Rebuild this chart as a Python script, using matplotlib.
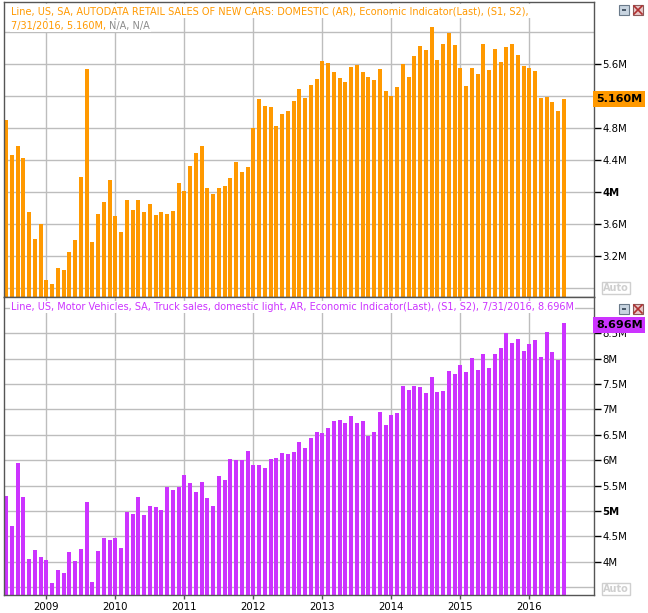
import numpy as np
import matplotlib
matplotlib.use('Agg')
import matplotlib.pyplot as plt
from matplotlib.patches import Rectangle

# monthly values, Jun 2008 .. Jul 2016 (millions, annual rate)
start_year, start_month = 2008, 6

cars = [4.90, 4.46, 4.575, 4.425, 3.74, 3.41, 3.59,
        2.89, 2.84, 3.04, 3.025, 3.25, 3.39, 4.19, 5.54, 3.375, 3.725, 3.875, 4.15,
        3.70, 3.49, 3.90, 3.775, 3.89, 3.74, 3.84, 3.71, 3.74, 3.725, 3.76, 4.11,
        4.01, 4.325, 4.49, 4.575, 4.04, 3.975, 4.05, 4.075, 4.175, 4.375, 4.25, 4.31,
        4.80, 5.16, 5.075, 5.06, 4.825, 4.975, 5.01, 5.14, 5.29, 5.175, 5.34, 5.41,
        5.64, 5.61, 5.50, 5.425, 5.375, 5.56, 5.59, 5.50, 5.44, 5.40, 5.54, 5.26,
        5.20, 5.31, 5.60, 5.44, 5.70, 5.825, 5.775, 6.06, 5.65, 5.85, 5.99, 5.84,
        5.55, 5.325, 5.55, 5.475, 5.85, 5.525, 5.79, 5.625, 5.81, 5.85, 5.71, 5.575,
        5.55, 5.51, 5.175, 5.19, 5.125, 5.01, 5.16]

trucks = [5.29, 4.70, 5.945, 5.275, 4.05, 4.23, 4.09,
          4.03, 3.58, 3.84, 3.78, 4.19, 4.01, 4.25, 5.18, 3.60, 4.21, 4.47, 4.43,
          4.47, 4.27, 4.98, 4.94, 5.275, 4.92, 5.10, 5.08, 5.02, 5.47, 5.41, 5.47,
          5.71, 5.55, 5.37, 5.57, 5.255, 5.10, 5.69, 5.61, 6.02, 6.00, 6.00, 6.18,
          5.905, 5.905, 5.85, 6.02, 6.04, 6.14, 6.12, 6.16, 6.36, 6.24, 6.44, 6.56,
          6.54, 6.63, 6.77, 6.79, 6.73, 6.87, 6.73, 6.77, 6.48, 6.56, 6.95, 6.69,
          6.89, 6.93, 7.46, 7.38, 7.46, 7.44, 7.32, 7.64, 7.34, 7.36, 7.76, 7.70,
          7.88, 7.74, 8.01, 7.78, 8.09, 7.82, 8.09, 8.21, 8.51, 8.31, 8.39, 8.15,
          8.29, 8.37, 8.03, 8.53, 8.13, 7.975, 8.696]

years = [2009, 2010, 2011, 2012, 2013, 2014, 2015, 2016]

cars_ticks = [3.2, 3.6, 4.0, 4.4, 4.8, 5.6]
cars_grid = [2.8, 3.2, 3.6, 4.0, 4.4, 4.8, 5.2, 5.6, 6.0]
truck_ticks = [4.0, 4.5, 5.0, 5.5, 6.0, 6.5, 7.0, 7.5, 8.0, 8.5]
truck_grid = [3.5, 4.0, 4.5, 5.0, 5.5, 6.0, 6.5, 7.0, 7.5, 8.0, 8.5, 9.0]

title_cars_1 = 'Line, US, SA, AUTODATA RETAIL SALES OF NEW CARS: DOMESTIC (AR), Economic Indicator(Last), (S1, S2),'
title_cars_2 = '7/31/2016, 5.160M, '
title_cars_na = 'N/A, N/A'
title_trucks = 'Line, US, Motor Vehicles, SA, Truck sales, domestic light, AR, Economic Indicator(Last), (S1, S2), 7/31/2016, 8.696M'

ORANGE = '#FF9900'
PURPLE = '#CC33FF'
GRID = '#BDBDBD'
FRAME = '#555555'

W, H = 648, 613
x = start_year + (start_month - 1 + np.arange(len(cars))) / 12.0

fig = plt.figure(figsize=(W / 100, H / 100), dpi=100)
fig.patch.set_facecolor('white')


def px_axes(left, top, right, bottom):
    return fig.add_axes([left / W, 1 - bottom / H, (right - left) / W, (bottom - top) / H])


def fmt(v):
    s = ('%.1f' % v).rstrip('0').rstrip('.')
    return s + 'M'


def setup(ax, values, color, ylim, ticks, grid, bold_tick):
    ax.bar(x, values, width=0.058, color=color, zorder=2)
    ax.set_xlim(2008.387, 2016.938)
    ax.set_ylim(*ylim)
    for g in grid:
        ax.axhline(g, color=GRID, lw=1, zorder=1)
    for yr in years:
        ax.axvline(yr, color=GRID, lw=1, zorder=1)
    ax.yaxis.tick_right()
    ax.set_yticks(ticks)
    ax.set_yticklabels([fmt(t) for t in ticks], fontsize=7.3)
    for lab, t in zip(ax.get_yticklabels(), ticks):
        if abs(t - bold_tick) < 1e-9:
            lab.set_fontweight('bold')
    ax.tick_params(axis='y', direction='out', length=5, width=1, pad=1, colors='black')
    ax.set_xticks(years)
    ax.tick_params(axis='x', direction='out', length=3, width=1, colors=FRAME, labelcolor='black',
                   labelsize=7.3)
    for side in ['left', 'right', 'bottom', 'top']:
        ax.spines[side].set_color(FRAME)
        ax.spines[side].set_linewidth(1)


ax1 = px_axes(4, 2, 594, 297)
setup(ax1, cars, ORANGE, (2.682, 6.374), cars_ticks, cars_grid, 4.0)
ax1.set_xticklabels([])

ax2 = px_axes(4, 297, 594, 595)
setup(ax2, trucks, PURPLE, (3.344, 9.215), truck_ticks, truck_grid, 5.0)
ax2.set_xticklabels([str(y) for y in years])
ax2.tick_params(axis='x', pad=2)

# titles with white background
TFS = 7.0
bbox_w = dict(facecolor='white', edgecolor='none', pad=1.5)
ax1.text(7 / 590, 1 - 4 / 295, title_cars_1, transform=ax1.transAxes, fontsize=TFS,
         color=ORANGE, va='top', ha='left', bbox=bbox_w, zorder=5)
t2 = ax1.text(7 / 590, 1 - 19 / 295, title_cars_2, transform=ax1.transAxes, fontsize=TFS,
              color=ORANGE, va='top', ha='left', bbox=dict(facecolor='white', edgecolor='none', pad=1),
              zorder=5)
fig.canvas.draw()
bb = t2.get_window_extent()
ax1.annotate(title_cars_na, xy=(bb.x1, bb.y1), xycoords='figure pixels', fontsize=TFS,
             color='#8C8C8C', va='top', ha='left', zorder=5,
             bbox=dict(facecolor='white', edgecolor='none', pad=1))

ax2.text(7 / 590, 1 - 5 / 298, title_trucks, transform=ax2.transAxes, fontsize=TFS,
         color=PURPLE, va='top', ha='left', bbox=dict(facecolor='white', edgecolor='none', pad=0.5),
         zorder=5)

# last value boxes on the right
fig.text(596 / W, 1 - 99 / H, '5.160M', fontsize=8, fontweight='bold', color='black',
         va='center', ha='left',
         bbox=dict(facecolor=ORANGE, edgecolor='none', pad=1.8))
fig.text(596 / W, 1 - 325 / H, '8.696M', fontsize=8, fontweight='bold', color='black',
         va='center', ha='left',
         bbox=dict(facecolor=PURPLE, edgecolor='none', pad=1.8))

# "Auto" boxes
for yc in (288, 589):
    fig.text(603 / W, 1 - yc / H, 'Auto', fontsize=7, fontweight='bold', color='#CFCFCF',
             va='center', ha='left',
             bbox=dict(facecolor='white', edgecolor='#CFCFCF', pad=0.8, lw=1))

# window buttons
for yt in (5, 304):
    fig.patches.append(Rectangle((619 / W, 1 - (yt + 10) / H), 10 / W, 10 / H,
                                 transform=fig.transFigure, facecolor='#C8D4E0',
                                 edgecolor='#6A7A8A', lw=0.8))
    fig.patches.append(Rectangle((622 / W, 1 - (yt + 6) / H), 4 / W, 2 / H,
                                 transform=fig.transFigure, facecolor='#4A5A6A',
                                 edgecolor='none'))
    fig.patches.append(Rectangle((633 / W, 1 - (yt + 10) / H), 10 / W, 10 / H,
                                 transform=fig.transFigure, facecolor='#E8C8C8',
                                 edgecolor='#8A5A5A', lw=0.8))
    fig.lines.append(plt.Line2D([634 / W, 642 / W], [1 - (yt + 1) / H, 1 - (yt + 9) / H],
                                transform=fig.transFigure, color='#B03030', lw=1.2))
    fig.lines.append(plt.Line2D([634 / W, 642 / W], [1 - (yt + 9) / H, 1 - (yt + 1) / H],
                                transform=fig.transFigure, color='#B03030', lw=1.2))

fig.savefig('out.png', dpi=100, facecolor='white')
